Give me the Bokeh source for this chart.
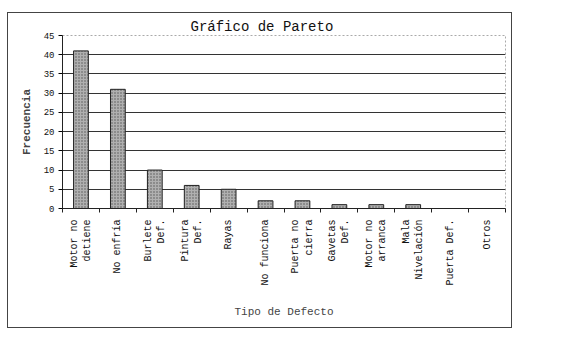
from math import pi
from bokeh.plotting import figure
from bokeh.models import Range1d, LinearAxis, FixedTicker, CustomLabelingPolicy
from bokeh.embed import file_html
from bokeh.resources import INLINE

categories = ["Motor no\ndetiene", "No enfría", "Burlete\nDef.", "Pintura\nDef.", "Rayas",
              "No funciona", "Puerta no\ncierra", "Gavetas\nDef.", "Motor no\narranca",
              "Mala\nNivelación", "Puerta Def.", "Otros"]
frecuencia = [41, 31, 10, 6, 5, 2, 2, 1, 1, 1, 0, 0]
y_ticks = [0, 5, 10, 15, 20, 25, 30, 35, 40, 45]

FONT = "Liberation Mono"
n = len(categories)
centers = [i + 0.5 for i in range(n)]

p = figure(width=505, height=316, x_range=Range1d(0, n), y_range=Range1d(0, 45),
           x_axis_type=None, output_backend="svg", toolbar_location=None,
           min_border_left=54, min_border_right=8, min_border_top=22, min_border_bottom=121,
           background_fill_color="white", border_fill_color="white")
p.styles = {"border": "1px solid #444444", "margin-left": "7px", "margin-top": "12px"}

p.title.text = "Gráfico de Pareto"
p.title.align = "left"
p.title.offset = 128
p.title.standoff = 2
p.title.text_font = FONT
p.title.text_font_size = "14px"
p.title.text_font_style = "normal"
p.title.text_color = "#111111"

p.vbar(x=centers, top=frecuencia, width=0.4, fill_color="#b0b0b0", line_color="#222222",
       line_width=1, hatch_pattern="dot", hatch_color="#555555", hatch_scale=3, hatch_weight=1)

hide_all = CustomLabelingPolicy(code="for (const i of indices) { indices.unset(i) } return indices")
tick_axis = LinearAxis(ticker=FixedTicker(ticks=list(range(n + 1))),
                       major_label_policy=hide_all,
                       major_label_text_font_size="1px", major_label_standoff=0,
                       major_tick_in=0, major_tick_out=4, minor_tick_line_color=None,
                       axis_line_color="#222222", major_tick_line_color="#222222")
p.add_layout(tick_axis, "below")

cat_axis = LinearAxis(ticker=FixedTicker(ticks=centers),
                      major_label_overrides={c: lab for c, lab in zip(centers, categories)},
                      axis_line_color=None, major_tick_line_color=None, minor_tick_line_color=None,
                      major_label_orientation=pi / 2, major_label_text_font=FONT,
                      major_label_text_font_size="10px", major_label_text_color="#111111",
                      major_label_standoff=-3, axis_label="Tipo de Defecto",
                      axis_label_text_font=FONT, axis_label_text_font_size="11px",
                      axis_label_text_font_style="normal", axis_label_standoff=17)
p.add_layout(cat_axis, "below")

p.yaxis.ticker = FixedTicker(ticks=y_ticks)
p.yaxis.axis_label = "Frecuencia"
p.yaxis.axis_label_text_font = FONT
p.yaxis.axis_label_text_font_size = "11px"
p.yaxis.axis_label_text_font_style = "bold"
p.yaxis.major_label_text_font = FONT
p.yaxis.major_label_text_font_size = "9px"
p.yaxis.major_label_text_color = "#111111"
p.yaxis.major_label_standoff = 4
p.yaxis.major_tick_in = 0
p.yaxis.major_tick_out = 4
p.yaxis.minor_tick_line_color = None
p.yaxis.axis_line_color = "#222222"
p.yaxis.axis_label_standoff = 8

p.xgrid.grid_line_color = None
p.ygrid.ticker = FixedTicker(ticks=y_ticks[:-1])
p.ygrid.grid_line_color = "#333333"
p.ygrid.grid_line_width = 1
p.outline_line_color = "#aaaaaa"
p.outline_line_dash = "2 2"

open("out.html", "w").write(file_html(p, INLINE))
